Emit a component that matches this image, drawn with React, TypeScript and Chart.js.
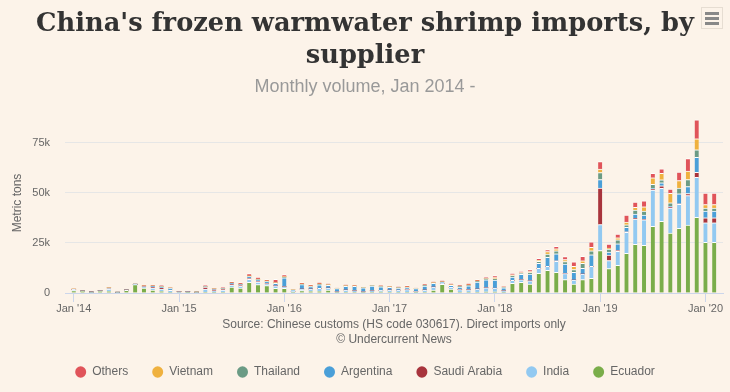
import React, { useEffect, useRef } from "react";
import { Chart, registerables } from "chart.js";

Chart.register(...registerables);

// ---- Data (metric tons) ----
const months = [
  "2014-01","2014-02","2014-03","2014-04","2014-05","2014-06","2014-07","2014-08","2014-09","2014-10","2014-11","2014-12",
  "2015-01","2015-02","2015-03","2015-04","2015-05","2015-06","2015-07","2015-08","2015-09","2015-10","2015-11","2015-12",
  "2016-01","2016-02","2016-03","2016-04","2016-05","2016-06","2016-07","2016-08","2016-09","2016-10","2016-11","2016-12",
  "2017-01","2017-02","2017-03","2017-04","2017-05","2017-06","2017-07","2017-08","2017-09","2017-10","2017-11","2017-12",
  "2018-01","2018-02","2018-03","2018-04","2018-05","2018-06","2018-07","2018-08","2018-09","2018-10","2018-11","2018-12",
  "2019-01","2019-02","2019-03","2019-04","2019-05","2019-06","2019-07","2019-08","2019-09","2019-10","2019-11","2019-12",
  "2020-01","2020-02",
];

const tickLabels = ["Jan '14", "Jan '15", "Jan '16", "Jan '17", "Jan '18", "Jan '19", "Jan '20"];
const tickMonths = ["2014-01", "2015-01", "2016-01", "2017-01", "2018-01", "2019-01", "2020-01"];
const yTicks = [0, 25000, 50000, 75000];

const ecuador = [
  1200, 800, 200, 800, 1000, 200, 1300, 4200, 2500, 1500, 800, 300,
  200, 300, 200, 500, 300, 500, 3000, 2500, 5300, 4200, 3700, 2300,
  2300, 300, 1200, 1000, 1000, 1500, 300, 500, 500, 300, 500, 600,
  500, 400, 500, 300, 500, 1500, 4300, 2000, 500, 400, 500, 600,
  600, 300, 4800, 5300, 4500, 9800, 11300, 10300, 6700, 4500, 6700, 7300,
  21200, 12200, 13800, 19800, 24300, 23800, 33300, 35800, 30000, 32300, 34000, 37800,
  25300, 25300,
];
const india = [
  600, 200, 300, 300, 800, 200, 200, 200, 500, 1000, 1200, 1000,
  400, 300, 200, 1500, 800, 1000, 1000, 800, 1500, 1200, 1000, 1300,
  800, 500, 800, 1000, 1300, 1000, 300, 1000, 600, 300, 600, 700,
  1000, 1000, 1200, 400, 1000, 1500, 500, 800, 1200, 1200, 1500, 2000,
  1800, 800, 1500, 1300, 1600, 2500, 2000, 5500, 3000, 2000, 2800, 6000,
  13000, 4000, 7000, 10500, 12700, 12800, 18200, 16500, 12500, 12000, 14700, 20000,
  9800, 9800,
];
const saudiArabia = [
  0, 0, 0, 0, 400, 0, 0, 0, 200, 500, 600, 200,
  0, 0, 0, 800, 600, 300, 500, 600, 600, 400, 300, 0,
  0, 0, 0, 0, 0, 0, 0, 0, 0, 0, 0, 0,
  0, 0, 0, 0, 0, 0, 0, 0, 0, 0, 0, 0,
  0, 0, 0, 0, 0, 0, 0, 300, 0, 0, 0, 0,
  18300, 2700, 500, 300, 300, 200, 300, 1300, 300, 300, 1000, 2500,
  2500, 2500,
];
const argentina = [
  100, 0, 0, 0, 200, 0, 0, 0, 200, 300, 400, 800,
  100, 0, 100, 300, 200, 300, 300, 300, 800, 800, 700, 1200,
  4500, 600, 2200, 1200, 1800, 1300, 1600, 1800, 2200, 2000, 2300, 1800,
  1300, 1000, 1000, 1500, 2000, 1800, 500, 1000, 1300, 2000, 3500, 4000,
  4000, 1500, 1700, 2700, 3300, 2500, 4500, 3500, 4700, 3800, 2800, 5800,
  4200, 1500, 3300, 2200, 2200, 2100, 500, 1500, 500, 5000, 3500, 7500,
  3300, 3300,
];
const thailand = [
  100, 0, 0, 0, 200, 0, 0, 0, 100, 200, 200, 200,
  0, 0, 0, 200, 200, 200, 200, 200, 300, 300, 300, 300,
  500, 200, 300, 300, 400, 300, 100, 300, 200, 100, 300, 300,
  300, 300, 300, 100, 400, 300, 300, 300, 400, 400, 500, 600,
  800, 300, 700, 500, 800, 1000, 1700, 1500, 1300, 1400, 2500, 2000,
  3500, 1500, 2000, 1300, 2000, 2000, 2000, 1500, 1800, 2800, 3500, 3800,
  1500, 1500,
];
const vietnam = [
  0, 0, 0, 0, 0, 0, 0, 0, 0, 0, 0, 0,
  0, 0, 0, 0, 0, 0, 0, 0, 0, 0, 0, 0,
  0, 0, 0, 0, 0, 0, 0, 0, 0, 0, 0, 0,
  0, 0, 0, 0, 0, 0, 0, 0, 0, 0, 0, 0,
  500, 200, 400, 400, 500, 500, 1200, 1000, 1000, 1600, 1300, 1700,
  1700, 500, 1000, 1300, 1300, 2200, 3300, 3200, 4700, 3800, 4200, 5500,
  1800, 1800,
];
const others = [
  100, 100, 100, 100, 300, 100, 100, 100, 400, 500, 700, 200,
  100, 100, 100, 600, 400, 500, 700, 800, 1200, 1000, 700, 1700,
  1100, 100, 700, 700, 800, 600, 200, 600, 300, 100, 300, 400,
  400, 600, 700, 200, 600, 600, 700, 700, 600, 800, 700, 800,
  1000, 200, 700, 600, 1000, 1000, 1000, 1200, 1500, 2300, 2200, 2800,
  3800, 2000, 1900, 3600, 2700, 3000, 2200, 2300, 2200, 4200, 6300, 9500,
  5800, 5800,
];

const seriesNames = ["Ecuador", "India", "Saudi Arabia", "Argentina", "Thailand", "Vietnam", "Others"];
const seriesValues = [ecuador, india, saudiArabia, argentina, thailand, vietnam, others];
const seriesColors = ["#7aad4a", "#92c9f1", "#a8343d", "#4a9fd8", "#6b9b85", "#efb13f", "#e0545a"];

const titleLines = ["China's frozen warmwater shrimp imports, by", "supplier"];
const subtitleText = "Monthly volume, Jan 2014 -";
const sourceLines = ["Source: Chinese customs (HS code 030617). Direct imports only", "\u00A9 Undercurrent News"];

const BG = "#fcf3e9";
const SANS = '"Liberation Sans", Arial, Helvetica, sans-serif';

const sourcePlugin = {
  id: "sourceText",
  afterDraw(chart: any) {
    const { ctx, chartArea } = chart;
    ctx.save();
    ctx.font = `12px ${SANS}`;
    ctx.fillStyle = "#666666";
    ctx.textAlign = "center";
    ctx.textBaseline = "middle";
    const cx = (chartArea.left + chartArea.right) / 2;
    ctx.fillText(sourceLines[0], cx, chartArea.bottom + 32);
    ctx.fillText(sourceLines[1], cx, chartArea.bottom + 47);
    ctx.restore();
  },
};

export default function App() {
  const ref = useRef<HTMLCanvasElement | null>(null);

  useEffect(() => {
    document.body.style.margin = "0";
    const xIndex = months.map((_, i) => i);
    const tickIdx = tickMonths.map((m) => months.indexOf(m));

    const chart = new Chart(ref.current as HTMLCanvasElement, {
      type: "bar",
      data: {
        labels: xIndex,
        datasets: seriesNames.map((name, i) => ({
          label: name,
          data: seriesValues[i],
          backgroundColor: seriesColors[i],
          borderColor: "#ffffff",
          borderWidth: { top: 1, bottom: 0, left: 0, right: 0 },
          borderSkipped: false,
          barThickness: 4,
        })),
      },
      options: {
        responsive: false,
        animation: false,
        layout: { padding: { left: 0, right: 0, top: 0, bottom: 4 } },
        plugins: {
          tooltip: { enabled: false },
          title: {
            display: true,
            text: titleLines,
            color: "#333333",
            font: { family: '"DejaVu Serif", Georgia, serif', size: 25.7, weight: "bold", lineHeight: 1.245 },
            padding: { top: 8, bottom: 0 },
          },
          subtitle: {
            display: true,
            text: subtitleText,
            color: "#999999",
            font: { family: SANS, size: 18, lineHeight: 1.2 },
            padding: { top: 4, bottom: 15.4 },
          },
          legend: {
            position: "bottom",
            reverse: true,
            labels: {
              usePointStyle: true,
              pointStyle: "circle",
              pointStyleWidth: 11,
              boxHeight: 8,
              padding: 24,
              color: "#666666",
              font: { family: SANS, size: 12 },
              generateLabels: (c: any) =>
                (Chart.defaults.plugins.legend.labels.generateLabels as any)(c).map((l: any) => ({
                  ...l,
                  lineWidth: 0,
                  strokeStyle: "rgba(0,0,0,0)",
                })),
            },
          },
        },
        scales: {
          x: {
            type: "linear",
            stacked: true,
            min: -1,
            max: 74,
            offset: false,
            grid: {
              offset: false,
              drawOnChartArea: false,
              drawTicks: true,
              tickLength: 9,
              tickColor: "#ccd6eb",
            },
            border: { display: true, color: "#ccd6eb" },
            afterBuildTicks: (axis: any) => {
              axis.ticks = tickIdx.map((v) => ({ value: v }));
            },
            afterFit: (scale: any) => {
              scale.height = 49;
            },
            ticks: {
              autoSkip: false,
              maxRotation: 0,
              padding: 0,
              color: "#666666",
              font: { family: SANS, size: 11 },
              callback: (v: any) => tickLabels[tickIdx.indexOf(Number(v))] ?? "",
            },
          },
          y: {
            type: "linear",
            stacked: true,
            min: 0,
            max: 90000,
            border: { display: false },
            grid: {
              drawTicks: false,
              color: (ctx: any) => (ctx.tick && ctx.tick.value === 0 ? "rgba(0,0,0,0)" : "#e6e6e6"),
            },
            afterBuildTicks: (axis: any) => {
              axis.ticks = yTicks.map((v) => ({ value: v }));
            },
            afterFit: (scale: any) => {
              scale.width = 65;
            },
            ticks: {
              padding: 15,
              color: "#666666",
              font: { family: SANS, size: 11 },
              callback: (v: any) => (Number(v) === 0 ? "0" : `${Number(v) / 1000}k`),
            },
            title: {
              display: true,
              text: "Metric tons",
              color: "#666666",
              font: { family: SANS, size: 12 },
              padding: { top: 10.8, bottom: 0 },
            },
          },
          yRight: {
            type: "linear",
            position: "right",
            display: true,
            grid: { display: false },
            border: { display: false },
            ticks: { display: false },
            afterFit: (scale: any) => {
              scale.width = 7;
            },
          },
        },
      } as any,
      plugins: [sourcePlugin],
    });
    return () => chart.destroy();
  }, []);

  return (
    <div style={{ position: "fixed", left: 0, top: 0, width: 730, height: 392, background: BG, overflow: "hidden" }}>
      <canvas ref={ref} width={730} height={392} style={{ display: "block" }} />
      <div
        style={{
          position: "absolute",
          left: 701,
          top: 7,
          width: 22,
          height: 22,
          border: "1px solid #e6ddd2",
          boxSizing: "border-box",
        }}
      >
        {[5, 10, 15].map((t) => (
          <div key={t} style={{ position: "absolute", left: 3, top: t - 1, width: 14, height: 2.5, background: "#888888" }} />
        ))}
      </div>
    </div>
  );
}
